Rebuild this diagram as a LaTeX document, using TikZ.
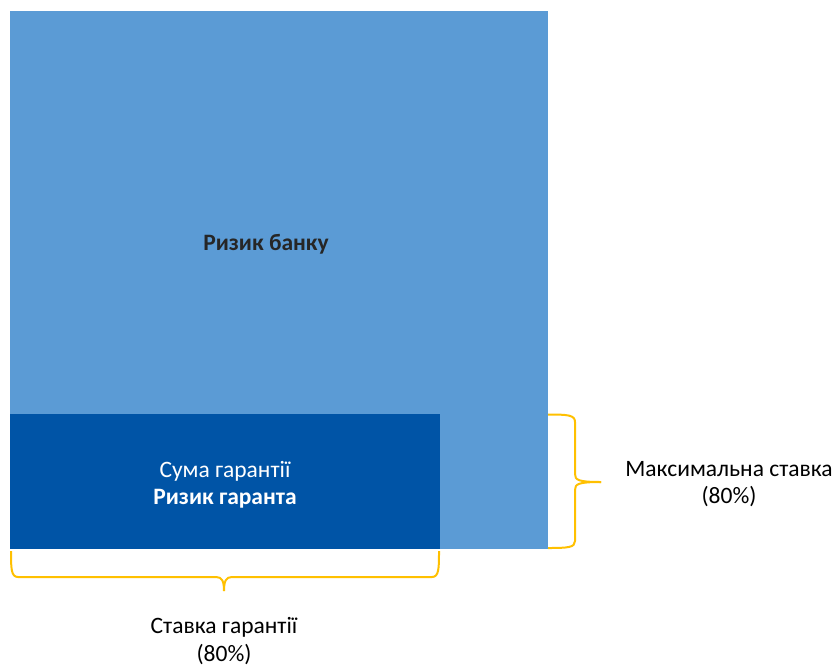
\documentclass[tikz,border=0pt]{standalone}
\usepackage{fontspec}
\setmainfont{Carlito}
\definecolor{banklight}{HTML}{5B9BD5}
\definecolor{guardark}{HTML}{0054A6}
\definecolor{braceyellow}{HTML}{FFC000}
\begin{document}
\begin{tikzpicture}
  [x=1pt,y=-1pt,
  bankbox/.style={rectangle,fill=banklight,draw=none,outer sep=0,
                  minimum width=538pt,minimum height=538pt},
  guarbox/.style={rectangle,fill=guardark,draw=none,outer sep=0,
                  minimum width=430pt,minimum height=135pt},
  lbl/.style={align=center,inner sep=0,font=\fontsize{23.5}{27.5}\selectfont},
  bracepath/.style={draw=braceyellow,line width=2pt,line join=round}
                  ]
  \useasboundingbox (0,0) rectangle (837,664);

  \node[bankbox] (bank) at (279,280) {};
  \node[guarbox] (guar) at (225,481.5) {};
  \node[lbl,text=black!85] (banktext) at (266,244) {\textbf{Ризик банку}};
  \node[lbl,text=white] (guartext) at (225,485) {Сума гарантії\\\textbf{Ризик гаранта}};
  \node[lbl] (maxtext) at (729,484) {Максимальна ставка\\(80\%)};
  \node[lbl] (ratetext) at (224,641) {Ставка гарантії\\(80\%)};

  % right brace
  \coordinate (rtop) at (548,414.5);
  \coordinate (rbot) at (548,548);
  \coordinate (rtip) at (601,482);
  \draw[bracepath] (rtop) .. controls (568,414.5) and (575,415) .. (575,422)
    -- (575,474) .. controls (575,480) and (578,482) .. (rtip);
  \draw[bracepath] (rbot) .. controls (568,548) and (575,547.5) .. (575,541)
    -- (575,490) .. controls (575,484) and (578,482) .. (rtip);

  % bottom brace
  \coordinate (bleft) at (11,551);
  \coordinate (bright) at (439,551);
  \coordinate (btip) at (224,591);
  \draw[bracepath] (bleft) .. controls (11,568) and (11,577) .. (18,577)
    -- (216,577) .. controls (222,577) and (224,581) .. (btip);
  \draw[bracepath] (bright) .. controls (439,568) and (439,577) .. (432,577)
    -- (232,577) .. controls (226,577) and (224,581) .. (btip);
\end{tikzpicture}
\end{document}
